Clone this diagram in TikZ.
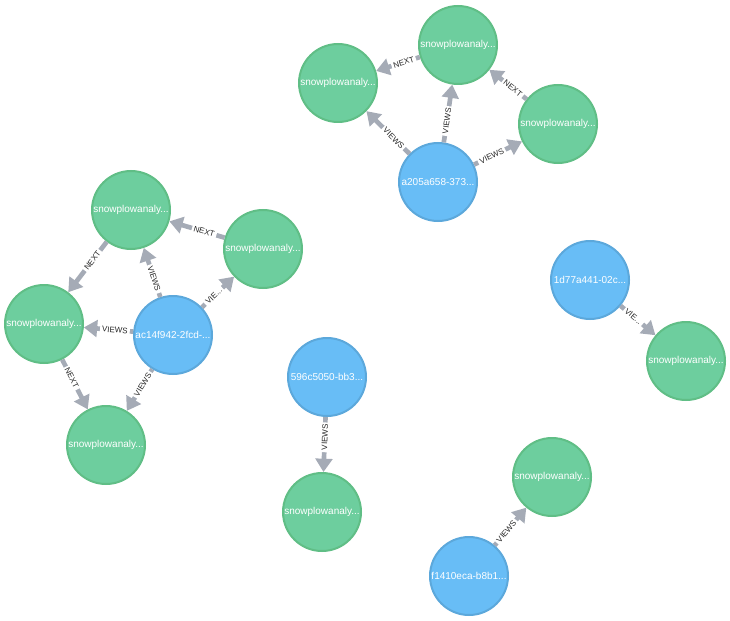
\documentclass[tikz,border=0pt]{standalone}
\usepackage{fontspec}
\setmainfont{Liberation Sans}
\usepackage{tikz}
\usetikzlibrary{arrows.meta}
\definecolor{pagegreen}{HTML}{6DCE9E}
\definecolor{pagegreenline}{HTML}{60BE86}
\definecolor{userblue}{HTML}{68BDF6}
\definecolor{userblueline}{HTML}{5CA8DB}
\definecolor{relgray}{HTML}{A5ABB6}

\begin{document}
\begin{tikzpicture}[x=0.75pt,y=-0.75pt,
    page/.style={circle, draw=pagegreenline, fill=pagegreen, line width=1.5pt,
        minimum size=58.5pt, inner sep=0pt, text=white, font=\fontsize{7.5}{8}\selectfont},
    user/.style={page, draw=userblueline, fill=userblue},
    rel/.style={draw=relgray, line width=3.5pt,
        -{Triangle[width=12.5pt,length=10pt]}},
    lbl/.style={sloped, pos=0.37, fill=white, inner sep=1.5pt,
        text=black!85, font=\fontsize{6}{7}\selectfont}
]
\useasboundingbox (0,0) rectangle (730,620);

% top group
\node[page] (a1) at (338,83) {snowplowanaly...};
\node[page] (a2) at (458,45) {snowplowanaly...};
\node[page] (a3) at (558,124) {snowplowanaly...};
\node[user] (b1) at (438,182) {a205a658-373...};

% left group
\node[page] (c1) at (131,210) {snowplowanaly...};
\node[page] (c2) at (263,249) {snowplowanaly...};
\node[page] (c3) at (44,324) {snowplowanaly...};
\node[page] (c4) at (106,445) {snowplowanaly...};
\node[user] (d1) at (173,335) {ac14f942-2fcd-...};

% pairs
\node[user] (e1) at (327,377) {596c5050-bb3...};
\node[page] (e2) at (322,512) {snowplowanaly...};
\node[user] (f1) at (590,280) {1d77a441-02c...};
\node[page] (f2) at (686,361) {snowplowanaly...};
\node[page] (g1) at (552,477) {snowplowanaly...};
\node[user] (g2) at (469,576) {f1410eca-b8b1...};

\draw[rel] (a2) -- node[lbl] {NEXT} (a1);
\draw[rel] (a3) -- node[lbl] {NEXT} (a2);
\draw[rel] (b1) -- node[lbl] {VIEWS} (a1);
\draw[rel] (b1) -- node[lbl] {VIEWS} (a2);
\draw[rel] (b1) -- node[lbl] {VIEWS} (a3);

\draw[rel] (c2) -- node[lbl] {NEXT} (c1);
\draw[rel] (c1) -- node[lbl] {NEXT} (c3);
\draw[rel] (c3) -- node[lbl] {NEXT} (c4);
\draw[rel] (d1) -- node[lbl] {VIEWS} (c1);
\draw[rel] (d1) -- node[lbl] {VIE...} (c2);
\draw[rel] (d1) -- node[lbl] {VIEWS} (c3);
\draw[rel] (d1) -- node[lbl] {VIEWS} (c4);

\draw[rel] (e1) -- node[lbl] {VIEWS} (e2);
\draw[rel] (f1) -- node[lbl] {VIE...} (f2);
\draw[rel] (g2) -- node[lbl] {VIEWS} (g1);
\end{tikzpicture}
\end{document}
